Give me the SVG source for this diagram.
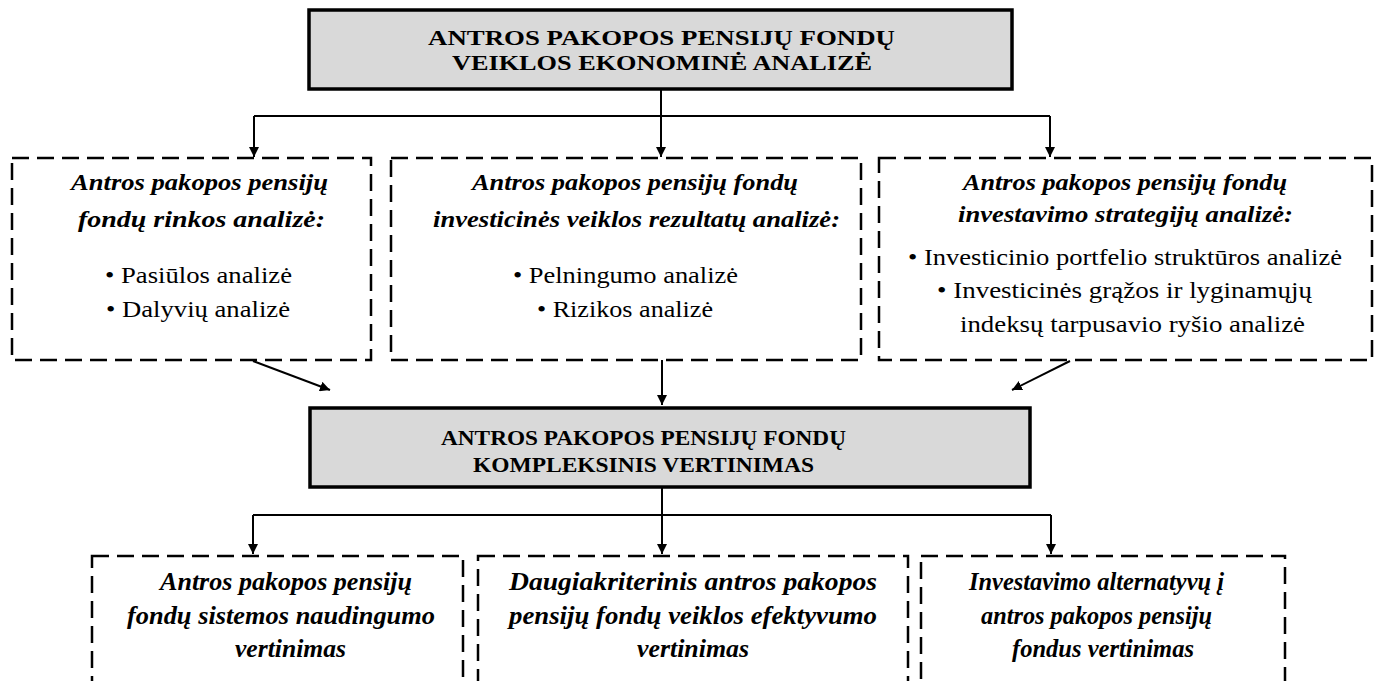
<svg xmlns="http://www.w3.org/2000/svg" width="1379" height="681" viewBox="0 0 1379 681">
<defs>
<marker id="ah" viewBox="0 0 10 10" refX="10" refY="5" markerWidth="5" markerHeight="5" orient="auto" markerUnits="strokeWidth">
<path d="M0,0 L10,5 L0,10 z" fill="#000"/>
</marker>
<style>
.grey{fill:#d9d9d9;stroke:#000;stroke-width:3.5}
.dash{fill:none;stroke:#000;stroke-width:2.5;stroke-dasharray:17 8}
.con{fill:none;stroke:#000;stroke-width:2}
.arr{fill:none;stroke:#000;stroke-width:2;marker-end:url(#ah)}
text{font-family:"Liberation Serif","Times New Roman",serif;fill:#000}
.cap{font-weight:bold;font-size:22px}
.hd{font-weight:bold;font-style:italic;font-size:24px}
.it{font-size:24px}
.bt{font-weight:bold;font-style:italic;font-size:26px}
</style>
</defs>
<rect width="1379" height="681" fill="#fff"/>

<g id="top">
<rect class="grey" x="309" y="10" width="703" height="79"/>
<text class="cap" x="428" y="45" textLength="467" lengthAdjust="spacingAndGlyphs">ANTROS PAKOPOS PENSIJŲ FONDŲ</text>
<text class="cap" x="452" y="70" textLength="420" lengthAdjust="spacingAndGlyphs">VEIKLOS EKONOMINĖ ANALIZĖ</text>
</g>

<g id="market">
<rect class="dash" x="12" y="158" width="359" height="202"/>
<text class="hd" x="71" y="190" textLength="257" lengthAdjust="spacingAndGlyphs">Antros pakopos pensijų</text>
<text class="hd" x="78" y="227" textLength="247" lengthAdjust="spacingAndGlyphs">fondų rinkos analizė:</text>
<text class="it" x="105" y="283" textLength="187" lengthAdjust="spacingAndGlyphs">• Pasiūlos analizė</text>
<text class="it" x="106" y="317" textLength="184" lengthAdjust="spacingAndGlyphs">• Dalyvių analizė</text>
</g>

<g id="results">
<rect class="dash" x="391" y="158" width="470" height="202"/>
<text class="hd" x="472" y="190" textLength="326" lengthAdjust="spacingAndGlyphs">Antros pakopos pensijų fondų</text>
<text class="hd" x="433" y="227" textLength="407" lengthAdjust="spacingAndGlyphs">investicinės veiklos rezultatų analizė:</text>
<text class="it" x="513" y="283" textLength="225" lengthAdjust="spacingAndGlyphs">• Pelningumo analizė</text>
<text class="it" x="537" y="317" textLength="176" lengthAdjust="spacingAndGlyphs">• Rizikos analizė</text>
</g>

<g id="strategy">
<rect class="dash" x="879" y="158" width="493" height="202"/>
<text class="hd" x="963" y="190" textLength="324" lengthAdjust="spacingAndGlyphs">Antros pakopos pensijų fondų</text>
<text class="hd" x="958" y="222" textLength="335" lengthAdjust="spacingAndGlyphs">investavimo strategijų analizė:</text>
<text class="it" x="908" y="265" textLength="434" lengthAdjust="spacingAndGlyphs">• Investicinio portfelio struktūros analizė</text>
<text class="it" x="937" y="298" textLength="375" lengthAdjust="spacingAndGlyphs">• Investicinės grąžos ir lyginamųjų</text>
<text class="it" x="960" y="332" textLength="345" lengthAdjust="spacingAndGlyphs">indeksų tarpusavio ryšio analizė</text>
</g>

<g id="complex">
<rect class="grey" x="310" y="408" width="720" height="79"/>
<text class="cap" x="441" y="445" textLength="405" lengthAdjust="spacingAndGlyphs">ANTROS PAKOPOS PENSIJŲ FONDŲ</text>
<text class="cap" x="473" y="472" textLength="341" lengthAdjust="spacingAndGlyphs">KOMPLEKSINIS VERTINIMAS</text>
</g>

<g id="benefit">
<rect class="dash" x="92" y="556" width="371" height="160"/>
<text class="bt" x="160" y="590" textLength="252" lengthAdjust="spacingAndGlyphs">Antros pakopos pensijų</text>
<text class="bt" x="127" y="624" textLength="308" lengthAdjust="spacingAndGlyphs">fondų sistemos naudingumo</text>
<text class="bt" x="235" y="657" textLength="111" lengthAdjust="spacingAndGlyphs">vertinimas</text>
</g>

<g id="efficiency">
<rect class="dash" x="478" y="556" width="430" height="160"/>
<text class="bt" x="509" y="590" textLength="368" lengthAdjust="spacingAndGlyphs">Daugiakriterinis antros pakopos</text>
<text class="bt" x="509" y="624" textLength="368" lengthAdjust="spacingAndGlyphs">pensijų fondų veiklos efektyvumo</text>
<text class="bt" x="637" y="657" textLength="112" lengthAdjust="spacingAndGlyphs">vertinimas</text>
</g>

<g id="alternatives">
<rect class="dash" x="921" y="556" width="364" height="160"/>
<text class="bt" x="969" y="590" textLength="255" lengthAdjust="spacingAndGlyphs">Investavimo alternatyvų į</text>
<text class="bt" x="981" y="624" textLength="231" lengthAdjust="spacingAndGlyphs">antros pakopos pensijų</text>
<text class="bt" x="1012" y="657" textLength="182" lengthAdjust="spacingAndGlyphs">fondus vertinimas</text>
</g>

<g id="connectors">
<path class="con" d="M254,116 H1050"/>
<path class="arr" d="M661,89 V157"/>
<path class="arr" d="M254,116 V157"/>
<path class="arr" d="M1050,116 V157"/>
<path class="arr" d="M662,360 V405"/>
<path class="arr" d="M253,361 L330,390"/>
<path class="arr" d="M1070,361 L1012,390"/>
<path class="con" d="M253,515 H1051"/>
<path class="arr" d="M662,487 V554"/>
<path class="arr" d="M253,515 V554"/>
<path class="arr" d="M1051,515 V554"/>
</g>
</svg>
